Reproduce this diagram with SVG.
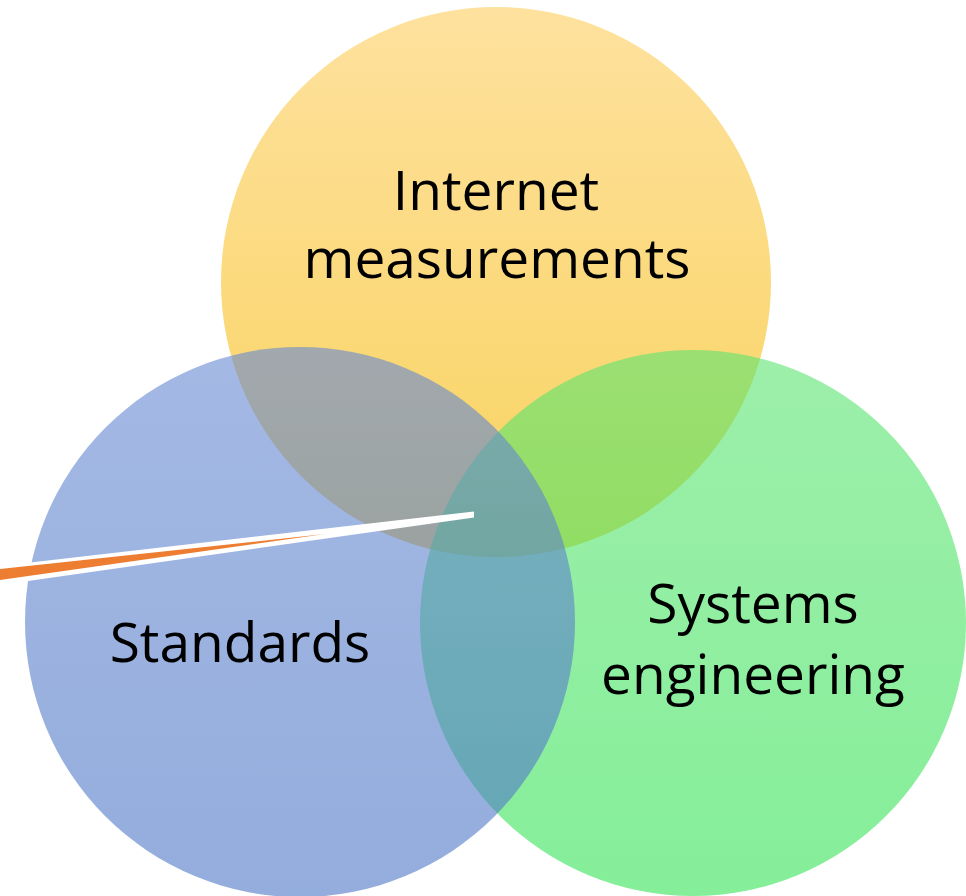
<svg xmlns="http://www.w3.org/2000/svg" width="966" height="896" viewBox="0 0 966 896">
  <defs>
    <linearGradient id="gY" x1="0" y1="0" x2="0" y2="1">
      <stop offset="0" stop-color="#FEE19E"/>
      <stop offset="1" stop-color="#F8D35E"/>
    </linearGradient>
    <linearGradient id="gG" x1="0" y1="0" x2="0" y2="1">
      <stop offset="0" stop-color="#5CE471"/>
      <stop offset="1" stop-color="#33E355"/>
    </linearGradient>
    <linearGradient id="gB" x1="0" y1="0" x2="0" y2="1">
      <stop offset="0" stop-color="#6789D2"/>
      <stop offset="1" stop-color="#4C76C5"/>
    </linearGradient>
    <style>
      .lbl { font-family: "Open Sans", "Liberation Sans", sans-serif; font-size: 55px; fill: #000; text-anchor: middle; }
    </style>
  </defs>
  <rect width="966" height="896" fill="#FFFFFF"/>
  <g id="node-internet">
    <circle cx="496" cy="282" r="275" fill="url(#gY)"/>
  </g>
  <g id="node-systems">
    <circle cx="693" cy="623" r="273" fill="url(#gG)" fill-opacity="0.6"/>
  </g>
  <g id="node-standards">
    <circle cx="300" cy="622" r="275" fill="url(#gB)" fill-opacity="0.6"/>
  </g>
  <g id="labels">
    <text class="lbl" x="496" y="210">Internet</text>
    <text class="lbl" x="497" y="278">measurements</text>
    <text class="lbl" x="240" y="662">Standards</text>
    <text class="lbl" x="753" y="623">Systems</text>
    <text class="lbl" x="753" y="694">engineering</text>
  </g>
  <g id="connectors">
    <polygon points="0,566 474,511.5 474,517.5 0,585" fill="#FFFFFF"/>
    <polygon points="0,569 325,534 0,580" fill="#ED7D31"/>
  </g>
</svg>
